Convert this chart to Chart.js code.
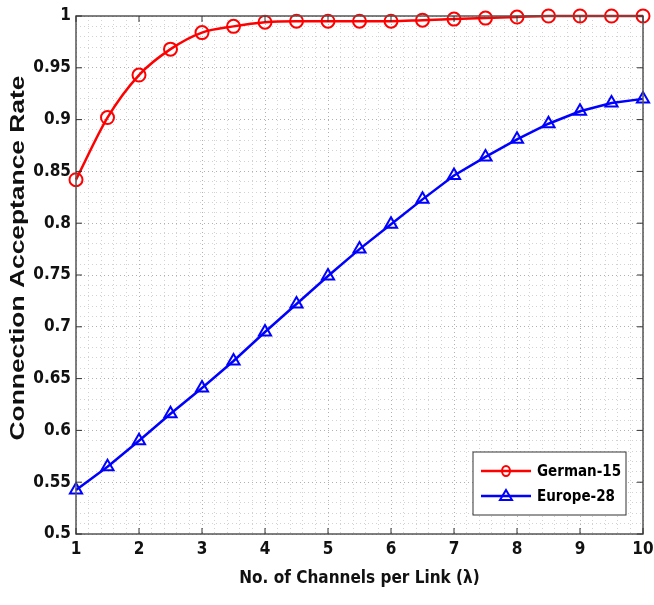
<!DOCTYPE html>
<html>
<head>
<meta charset="utf-8">
<script src="https://cdn.jsdelivr.net/npm/chart.js@4"></script>
<style>
  html, body { margin: 0; padding: 0; background: #fff; }
  #wrap { width: 654px; height: 605px; }
</style>
</head>
<body>
<div id="wrap"><canvas id="myChart" width="654" height="605"></canvas></div>
<script>
// channels per link
const canais = [1, 1.5, 2, 2.5, 3, 3.5, 4, 4.5, 5, 5.5, 6, 6.5, 7, 7.5, 8, 8.5, 9, 9.5, 10]

const german15 = [0.842, 0.902, 0.943, 0.968, 0.984, 0.990, 0.994, 0.995, 0.995, 0.995, 0.995, 0.996, 0.997, 0.998, 0.999, 1.0, 1.0, 1.0, 1.0]
const europe28 = [0.5425, 0.565, 0.590, 0.616, 0.641, 0.667, 0.695, 0.722, 0.749, 0.775, 0.799, 0.823, 0.846, 0.864, 0.881, 0.896, 0.908, 0.916, 0.920]

const xTicks = [1, 2, 3, 4, 5, 6, 7, 8, 9, 10]
const yTicks = [0.5, 0.55, 0.6, 0.65, 0.7, 0.75, 0.8, 0.85, 0.9, 0.95, 1]

const tituloY = 'Connection Acceptance Rate'
const tituloX = 'No. of Channels per Link (λ)'

const toPts = arr => arr.map((v, i) => ({ x: canais[i], y: v }))
const isMajor = (v, list) => list.some(t => Math.abs(t - v) < 1e-6)

const familia = '"DejaVu Sans Condensed", "Liberation Sans", sans-serif'
const fonteTick = { family: familia, size: 17, weight: 'bold' }

// box around plot area, inward ticks, y title and legend inside
const caixaPlugin = {
    id: 'caixa',
    afterDatasetsDraw(chart) {
        const { ctx, chartArea: a } = chart
        ctx.save()
        ctx.strokeStyle = '#555'
        ctx.lineWidth = 1.5
        ctx.strokeRect(a.left, a.top, a.right - a.left, a.bottom - a.top)

        ctx.strokeStyle = '#333'
        ctx.lineWidth = 1
        const xs = chart.scales.x, ys = chart.scales.y
        xTicks.forEach(t => {
            const px = xs.getPixelForValue(t)
            ctx.beginPath()
            ctx.moveTo(px, a.bottom); ctx.lineTo(px, a.bottom - 6)
            ctx.moveTo(px, a.top); ctx.lineTo(px, a.top + 6)
            ctx.stroke()
        })
        yTicks.forEach(t => {
            const py = ys.getPixelForValue(t)
            ctx.beginPath()
            ctx.moveTo(a.left, py); ctx.lineTo(a.left + 6, py)
            ctx.moveTo(a.right, py); ctx.lineTo(a.right - 6, py)
            ctx.stroke()
        })

        // y title, stretched along its length like the original
        ctx.save()
        ctx.translate(18, 258)
        ctx.rotate(-Math.PI / 2)
        ctx.font = 'bold 20px Arial, "Liberation Sans", sans-serif'
        const w = ctx.measureText(tituloY).width
        ctx.scale(365 / w, 1)
        ctx.fillStyle = '#111'
        ctx.textAlign = 'center'
        ctx.textBaseline = 'middle'
        ctx.fillText(tituloY, 0, 0)
        ctx.restore()

        // legend
        const lx = 473, ly = 452, lw = 153, lh = 63
        ctx.fillStyle = '#fff'
        ctx.fillRect(lx, ly, lw, lh)
        ctx.strokeStyle = '#333'
        ctx.lineWidth = 1
        ctx.strokeRect(lx, ly, lw, lh)
        ctx.font = 'bold 15px ' + familia
        ctx.textBaseline = 'middle'
        chart.data.datasets.forEach((ds, i) => {
            const cy = ly + 19 + i * 25
            ctx.strokeStyle = ds.borderColor
            ctx.lineWidth = 2.5
            ctx.beginPath()
            ctx.moveTo(lx + 8, cy); ctx.lineTo(lx + 58, cy)
            ctx.stroke()
            ctx.lineWidth = 2
            ctx.beginPath()
            if (ds.pointStyle === 'triangle') {
                ctx.moveTo(lx + 33, cy - 6); ctx.lineTo(lx + 39, cy + 4); ctx.lineTo(lx + 27, cy + 4); ctx.closePath()
            } else {
                ctx.ellipse(lx + 33, cy, 4, 5, 0, 0, Math.PI * 2)
            }
            ctx.stroke()
            ctx.fillStyle = '#000'
            ctx.fillText(ds.label, lx + 64, cy + 1)
        })
        ctx.restore()
    }
}

const ctx = document.getElementById('myChart').getContext('2d')

const myChart = new Chart(ctx, {
    type: 'line',
    data: {
        datasets: [
            {
                label: 'German-15',
                data: toPts(german15),
                borderColor: '#ff0000',
                backgroundColor: 'transparent',
                pointStyle: 'circle',
                pointRadius: 6.5,
                pointBorderWidth: 2,
                pointBackgroundColor: 'transparent',
                borderWidth: 2.5,
                cubicInterpolationMode: 'monotone',
                clip: false
            },
            {
                label: 'Europe-28',
                data: toPts(europe28),
                borderColor: '#0000ff',
                backgroundColor: 'transparent',
                pointStyle: 'triangle',
                pointRadius: 7,
                pointBorderWidth: 2,
                pointBackgroundColor: 'transparent',
                borderWidth: 2.5,
                clip: false
            }
        ]
    },
    plugins: [caixaPlugin],
    options: {
        responsive: false,
        animation: false,
        layout: { padding: { top: 16, right: 11, left: 0, bottom: 0 } },
        plugins: {
            legend: { display: false },
            tooltip: { enabled: false }
        },
        scales: {
            x: {
                type: 'linear',
                min: 1,
                max: 10,
                ticks: {
                    stepSize: 0.2,
                    autoSkip: false,
                    maxRotation: 0,
                    color: '#111',
                    font: fonteTick,
                    padding: 5,
                    callback: v => isMajor(v, xTicks) ? String(Math.round(v)) : ''
                },
                grid: {
                    drawTicks: false,
                    color: c => isMajor(c.tick.value, xTicks) ? '#b0b0b0' : '#d2d2d2',
                    lineWidth: 1
                },
                border: { display: false, dash: [1, 3] },
                title: {
                    display: true,
                    text: tituloX,
                    color: '#111',
                    font: { family: familia, size: 17, weight: 'bold' },
                    padding: { top: 0, bottom: 16 }
                },
                afterFit: s => { s.height = 71; s.paddingRight = 0; s.paddingLeft = 0 }
            },
            y: {
                min: 0.5,
                max: 1,
                ticks: {
                    stepSize: 0.01,
                    autoSkip: false,
                    color: '#111',
                    font: fonteTick,
                    padding: 5,
                    callback: v => isMajor(v, yTicks) ? String(parseFloat(v.toFixed(2))) : ''
                },
                grid: {
                    drawTicks: false,
                    color: c => isMajor(c.tick.value, yTicks) ? '#b0b0b0' : '#d2d2d2',
                    lineWidth: 1
                },
                border: { display: false, dash: [1, 3] },
                afterFit: s => { s.width = 76; s.paddingTop = 0; s.paddingBottom = 0 }
            }
        }
    }
})
</script>
</body>
</html>
